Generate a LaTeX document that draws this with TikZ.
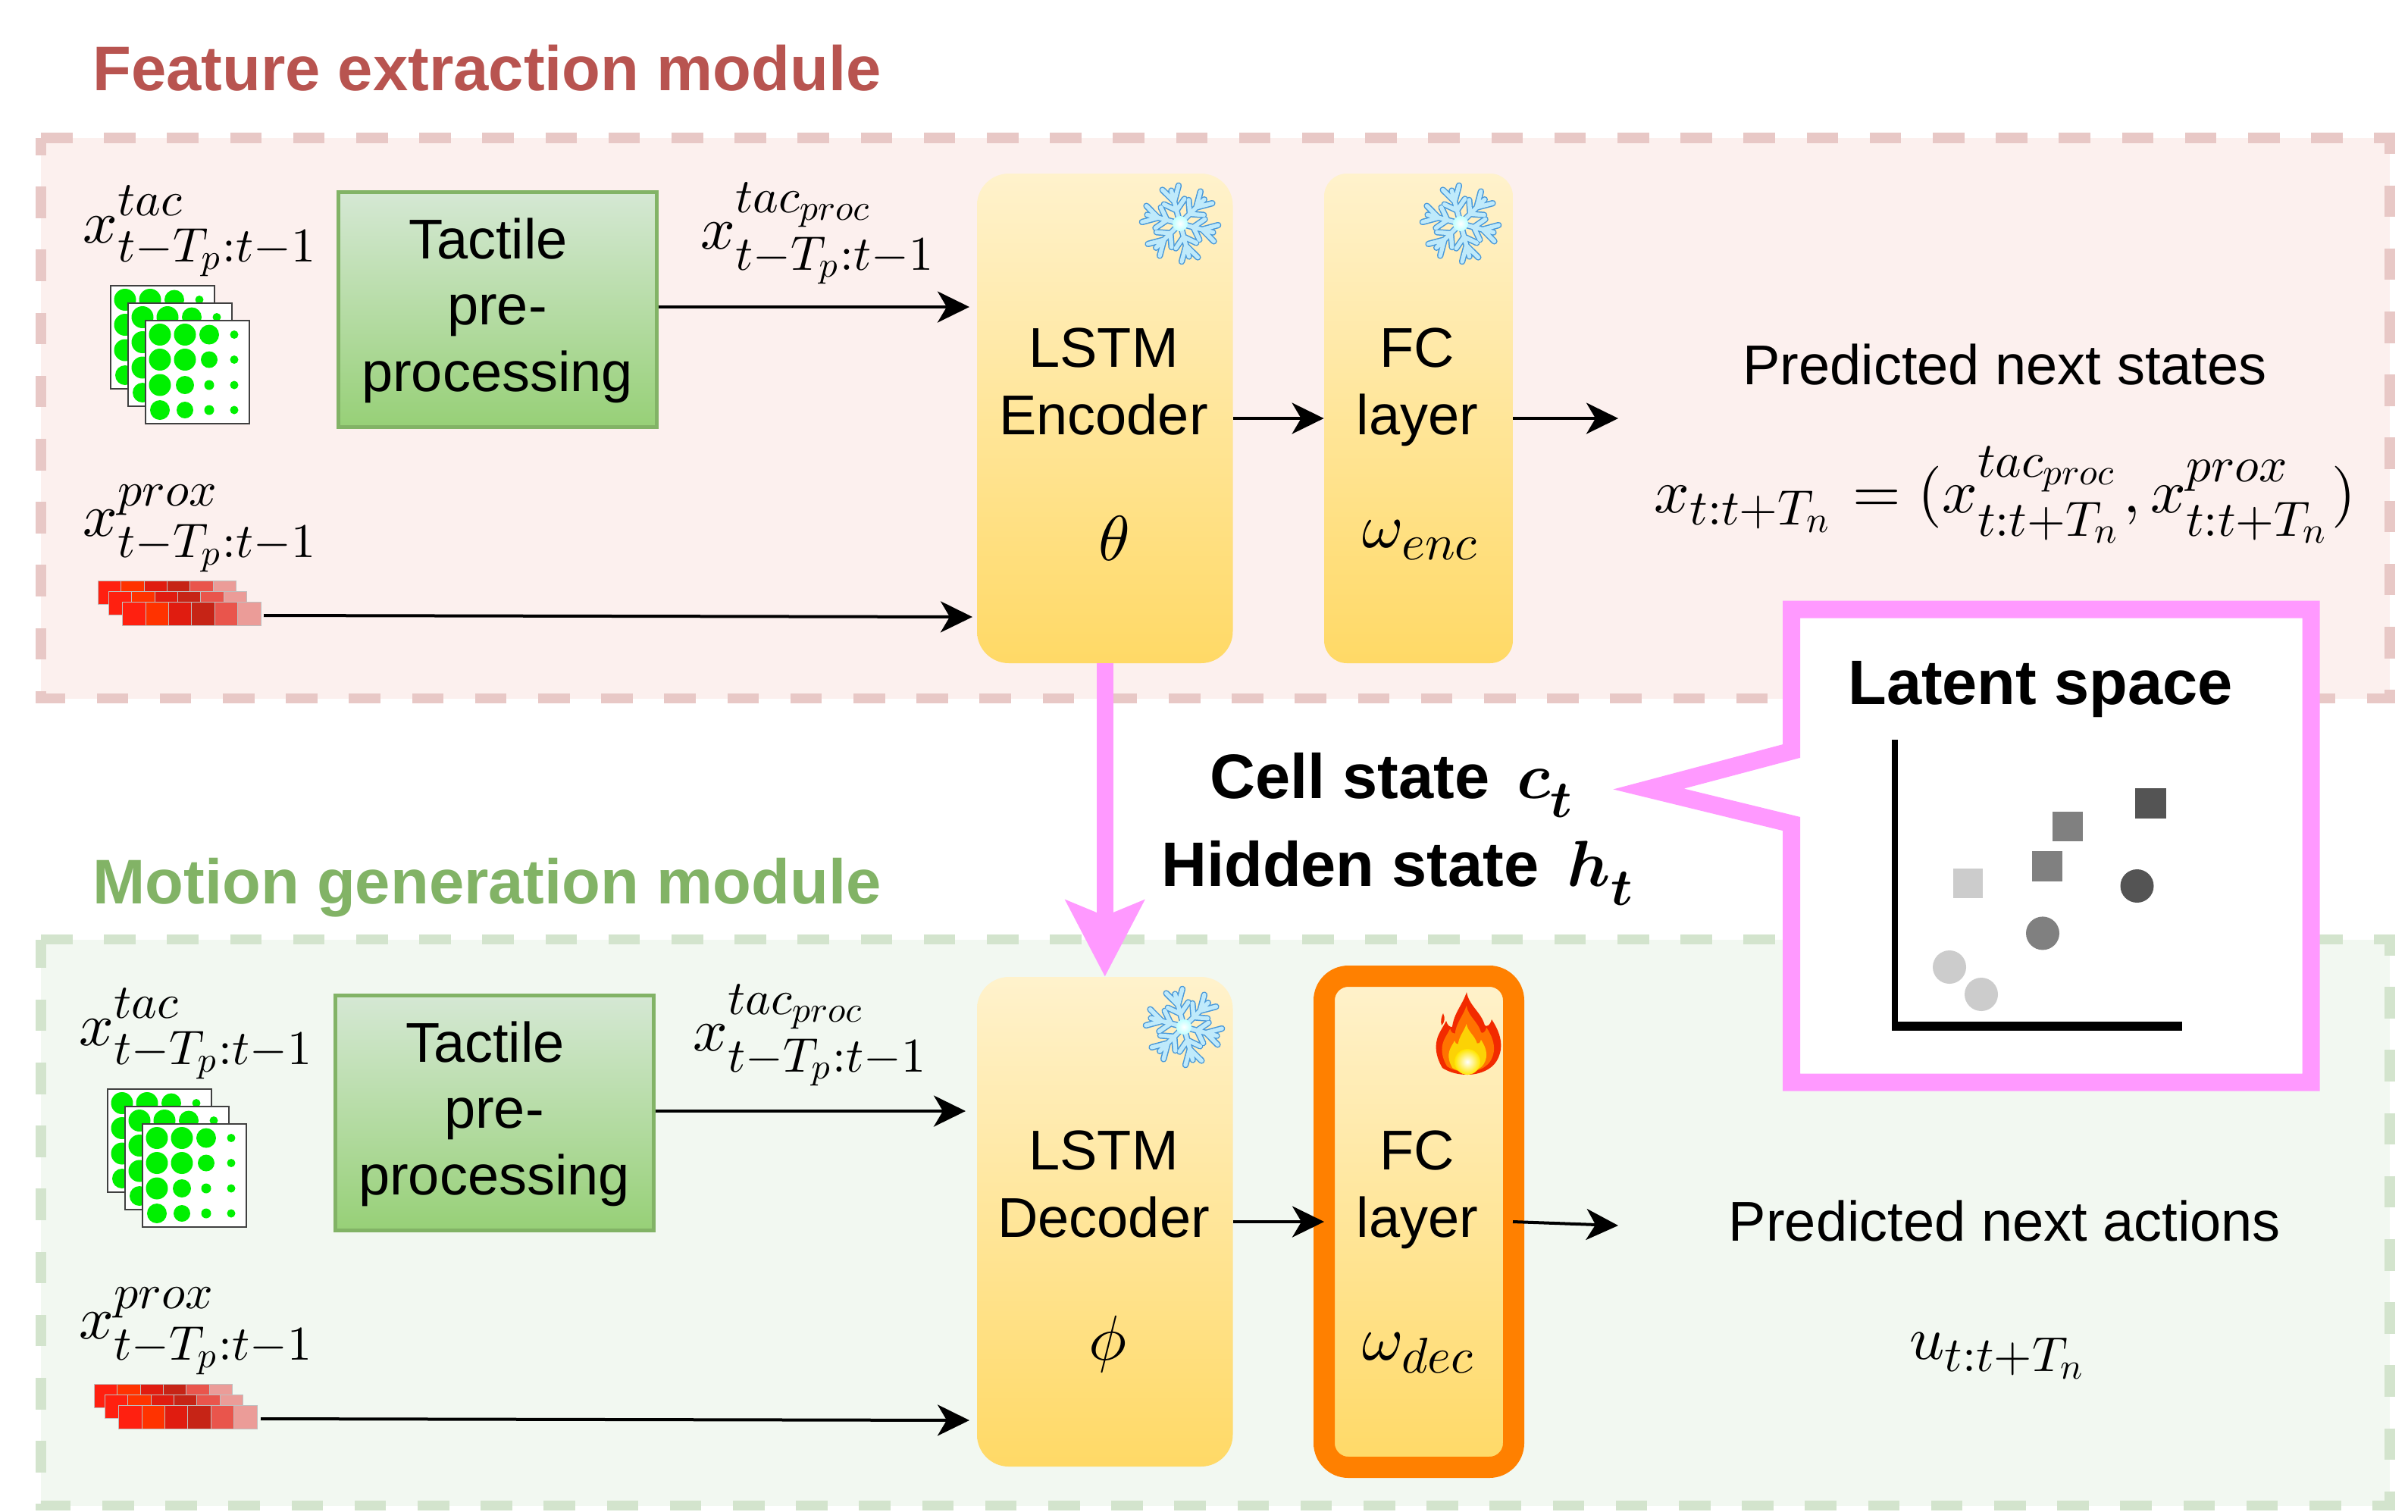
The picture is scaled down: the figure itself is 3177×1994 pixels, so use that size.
\documentclass[tikz,border=0pt]{standalone}
\usepackage{amsmath}
\usepackage[no-math]{fontspec}
\setmainfont{Liberation Sans}
\usetikzlibrary{arrows.meta}
\definecolor{redfill}{HTML}{FCF0EE}
\definecolor{reddash}{HTML}{E8C8C6}
\definecolor{greenfill}{HTML}{F2F8F1}
\definecolor{greendash}{HTML}{D3E4CD}
\definecolor{titlered}{HTML}{B85450}
\definecolor{titlegreen}{HTML}{82B366}
\definecolor{pinkc}{HTML}{FF99FF}
\definecolor{orangec}{HTML}{FF8000}
\definecolor{yellowtop}{HTML}{FFF2CC}
\definecolor{yellowbot}{HTML}{FFD966}
\definecolor{greentop}{HTML}{D5E8D4}
\definecolor{greenbot}{HTML}{97D077}
\definecolor{greenline}{HTML}{82B366}
\definecolor{dotgreen}{HTML}{00F000}
% script sizes as large as the reference's
\font\mjmiS=cmmi10 at 8pt
\font\mjmiSS=cmmi10 at 6pt
\font\mjrS=cmr10 at 8pt
\font\mjrSS=cmr10 at 6pt
\font\mjsyS=cmsy10 at 8pt
\font\mjsySS=cmsy10 at 6pt
\font\mjsyT=cmsy10 at 10.001pt
\fontdimen13\mjsyT=4.4pt
\fontdimen14\mjsyT=4.4pt
\fontdimen15\mjsyT=4.4pt
\fontdimen16\mjsyT=2.05pt
\fontdimen17\mjsyT=3.2pt
\font\bmiT=cmmib10 at 10pt
\font\bmiS=cmmib10 at 8pt
\newcommand{\mj}{\textfont2=\mjsyT \scriptfont0=\mjrS \scriptscriptfont0=\mjrSS
  \scriptfont1=\mjmiS \scriptscriptfont1=\mjmiSS
  \scriptfont2=\mjsyS \scriptscriptfont2=\mjsySS }
\newcommand{\upsc}[2]{\raisebox{#1}{$\scriptstyle #2$}}
\tikzset{
  module/.style={line width=6.85pt,dash pattern=on 20.8pt off 20.8pt},
  bodytext/.style={font=\fontsize{37}{41}\selectfont,anchor=base,inner sep=0pt},
  boldtext/.style={font=\fontsize{41.5}{45}\selectfont\bfseries,anchor=base,inner sep=0pt},
  titletext/.style={font=\fontsize{41.6}{45}\selectfont\bfseries,anchor=base west,inner sep=0pt},
  mathlab/.style={scale=4,anchor=base west,inner sep=0pt},
  boldmath/.style={scale=4.3,anchor=base west,inner sep=0pt},
  greek/.style={scale=4.2,anchor=center,inner sep=0pt},
  lstmbox/.style={draw=none,top color=yellowtop,bottom color=yellowbot,rounded corners=21pt,inner sep=0pt,minimum width=168.75pt,minimum height=323pt},
  fcbox/.style={draw=none,top color=yellowtop,bottom color=yellowbot,rounded corners=15pt,inner sep=0pt,minimum width=124.5pt,minimum height=323pt},
  hotbox/.style={draw=orangec,line width=14pt,top color=yellowtop,bottom color=yellowbot,rounded corners=16pt,inner sep=0pt,minimum width=125pt,minimum height=324pt},
  tactilebox/.style={draw=greenline,line width=2.5pt,top color=greentop,bottom color=greenbot,inner sep=0pt,minimum width=210pt,minimum height=155pt},
  flow/.style={line width=2pt,-{Stealth[length=21pt,width=20.5pt,inset=6pt]}},
  bigflow/.style={draw=pinkc,line width=11pt,-{Stealth[length=50pt,width=51pt,inset=10pt,color=pinkc]}},
  sheet/.style={draw=black!75,line width=1pt,fill=white},
  dot/.style={fill=dotgreen,draw=none},
  cell/.style={draw=black!25,line width=.25pt}
}
\newcommand{\dotsheet}[2]{%
  \begin{scope}[shift={(#1,#2)}]
    \filldraw[sheet] (0,0) rectangle (137,136);
    \foreach \cx/\cy/\r in {19/18.5/14.5,52/18.5/14.5,84/18.5/13,117/18.5/5.5,
                            19/51.5/14.5,52/51.5/14.5,84/51.5/11,117/51.5/5.5,
                            19/85/14.5,52/85/12,84/85/6.5,117/85/5.5,
                            19/118/13,52/118/11,84/118/6.5,117/118/5.5}
      \fill[dot] (\cx,\cy) circle[radius=\r*0.5pt];
  \end{scope}}
\newcommand{\tacstack}[2]{%
  \begin{scope}[shift={(#1,#2)}]
    \dotsheet{0}{0}\dotsheet{23}{23}\dotsheet{46}{46}
  \end{scope}}
\newcommand{\redstrip}[2]{%
  \begin{scope}[shift={(#1,#2)}]
    \foreach \i/\c in {0/FF2010,1/FF3300,2/E01C10,3/C62416,4/E9554C,5/EB9C98}{
      \definecolor{cellc}{HTML}{\c}
      \filldraw[cell,fill=cellc] ({\i*30.4},0) rectangle ({(\i+1)*30.4},31.5);
    }
  \end{scope}}
\newcommand{\proxstack}[2]{%
  \begin{scope}[shift={(#1,#2)}]
    \redstrip{0}{0}\redstrip{14}{14}\redstrip{32.5}{28}
  \end{scope}}
\newcommand{\flakearm}{(0,0)--(30,0) (30,0)--(49,11) (30,0)--(49,-11) (36,0)--(45,0) (18,0)--(30,14) (18,0)--(30,-14)}
\newcommand{\snowflk}[2]{%
  \begin{scope}[shift={(#1,#2)}]
    \foreach \a in {-15,45,105,165,225,285}{
      \draw[rotate=\a,draw=cyan!65!blue!75,line width=4.2pt,line cap=round,line join=round] \flakearm;
    }
    \foreach \a in {-15,45,105,165,225,285}{
      \draw[rotate=\a,draw=cyan!25,line width=2.7pt,line cap=round,line join=round] \flakearm;
    }
    \shade[inner color=white,outer color=cyan!25] (0,0) circle[radius=5pt];
  \end{scope}}
\newcommand{\flamepath}{(41,0) .. controls (44,18) and (60,26) .. (65,44)
  .. controls (68,46) and (72,44) .. (74,36)
  .. controls (82,48) and (88,62) .. (86,76)
  .. controls (84,88) and (78,96) .. (72,100)
  .. controls (64,106) and (52,109) .. (42,109)
  .. controls (30,109) and (18,106) .. (9,100)
  .. controls (3,90) and (-2,76) .. (2,62)
  .. controls (4,54) and (10,46) .. (14,38)
  .. controls (16,44) and (18,46) .. (22,46)
  .. controls (24,28) and (36,16) .. (41,0) -- cycle}
\newcommand{\fireicon}[2]{%
  \begin{scope}[shift={(#1,#2)}]
    \fill[red!65!orange!95!black] \flamepath;
    \fill[red!65!orange!95!black] (10,28) .. controls (13,34) and (12,40) .. (8,44) .. controls (6,38) and (8,32) .. (10,28) -- cycle;
    \begin{scope}[shift={(8,18)},scale=.8]
      \fill[orange!90!red] \flamepath;
    \end{scope}
    \begin{scope}[shift={(17,42)},scale=.58]
      \fill[yellow!70!orange] \flamepath;
    \end{scope}
    \shade[inner color=white,outer color=yellow!80!orange] (42,92) circle[radius=8.5pt];
  \end{scope}}
\begin{document}
\begin{tikzpicture}[x=0.5pt,y=-0.5pt]
\useasboundingbox (0,0) rectangle (3177,1994);
\fill[white] (0,0) rectangle (3177,1994);
% modules
\fill[redfill] (54,182) rectangle (3153,921.5);
\draw[module,reddash] (54,182) -- (3153,182) -- (3153,921.5) -- (54,921.5) -- cycle;
\fill[greenfill] (54,1239.5) rectangle (3153,1986.5);
\draw[module,greendash] (54,1239.5) -- (3153,1239.5) -- (3153,1986.5) -- (54,1986.5) -- cycle;
\node[titletext,text=titlered] (titleA) at (122,119) {Feature extraction module};
\node[titletext,text=titlegreen] (titleB) at (122,1192) {Motion generation module};
% top boxes
\node[tactilebox] (tacA) at (656,408) {};
\node[lstmbox] (enc) at (1457.75,552) {};
\node[fcbox] (fcA) at (1871.5,552) {};
% bottom boxes
\node[tactilebox] (tacB) at (652,1468) {};
\node[lstmbox] (dec) at (1457.75,1612) {};
\node[hotbox] (fcB) at (1872,1612) {};
% top labels
\node[bodytext] (ta1) at (644,341) {Tactile};
\node[bodytext] (ta2) at (656,428) {pre-};
\node[bodytext] (ta3) at (656,516.5) {processing};
\node[bodytext] (e1) at (1456,484) {LSTM};
\node[bodytext] (e2) at (1456,573) {Encoder};
\node[greek] (e3) at (1470,710) {$\theta$};
\node[bodytext] (f1) at (1870,484) {FC};
\node[bodytext] (f2) at (1870,573) {layer};
\node[mathlab,scale=1.035] (f3) at (1796,722) {$\mj\omega_{enc}$};
\node[mathlab] (xa) at (108,320) {$\mj x^{tac}_{t-T_p:t-1}$};
\node[mathlab] (xb) at (108,707) {$\mj x^{prox}_{t-T_p:t-1}$};
\node[mathlab] (xc) at (923,328) {$\mj x^{\upsc{1.5pt}{tac_{proc}}}_{t-T_p:t-1}$};
\node[bodytext] (ps) at (2645,507) {Predicted next states};
\node[mathlab,scale=1.022] (eqn) at (2181,676) {$\mj x_{t:t+T_n}=(x^{\upsc{1.3pt}{tac_{proc}}}_{\upsc{-0.6pt}{t:t+T_n}},x^{\upsc{0.5pt}{prox}}_{\upsc{-0.6pt}{t:t+T_n}})$};
% bottom labels
\node[bodytext] (tb1) at (640,1401) {Tactile};
\node[bodytext] (tb2) at (652,1488) {pre-};
\node[bodytext] (tb3) at (652,1576.5) {processing};
\node[bodytext] (d1) at (1456,1543) {LSTM};
\node[bodytext] (d2) at (1456,1632) {Decoder};
\node[greek] (d3) at (1462,1773) {$\phi$};
\node[bodytext] (g1) at (1870,1543) {FC};
\node[bodytext] (g2) at (1870,1632) {layer};
\node[mathlab,scale=1.035] (g3) at (1796,1794) {$\mj\omega_{dec}$};
\node[mathlab] (xd) at (103,1379) {$\mj x^{tac}_{t-T_p:t-1}$};
\node[mathlab] (xe) at (103,1766) {$\mj x^{prox}_{t-T_p:t-1}$};
\node[mathlab] (xf) at (913,1386) {$\mj x^{\upsc{1.5pt}{tac_{proc}}}_{t-T_p:t-1}$};
\node[bodytext] (pa) at (2645,1637) {Predicted next actions};
\node[mathlab,scale=1.012] (un) at (2518,1793) {$\mj u_{t:t+T_n}$};
% icons
\tacstack{146}{377}
\proxstack{129}{766}
\tacstack{142}{1437}
\proxstack{124}{1826}
\snowflk{1557}{295}
\snowflk{1927}{295}
\snowflk{1562}{1355}
\fireicon{1894}{1309}
% coordinates for connector free ends
\coordinate (proxA) at (348,812);
\coordinate (proxB) at (344,1872);
\coordinate (encTac) at (1279,405);
\coordinate (encProx) at (1283,814);
\coordinate (decTac) at (1274,1466);
\coordinate (decProx) at (1279,1874);
\coordinate (outA) at (2135,552);
\coordinate (outB) at (2135,1617);
\coordinate (fcBsrc) at (1996,1612);
\coordinate (fcBin) at (1747,1612);
% connectors
\draw[flow] (tacA.east |- encTac) -- (encTac);
\draw[flow] (proxA) -- (encProx);
\draw[flow] (enc.east) -- (fcA.west);
\draw[flow] (fcA.east) -- (outA);
\draw[flow] (tacB.east |- decTac) -- (decTac);
\draw[flow] (proxB) -- (decProx);
\draw[flow] (dec.east) -- (fcBin);
\draw[flow] (fcBsrc) -- (outB);
\draw[bigflow] (enc.south) -- (dec.north);
% callout
\filldraw[draw=pinkc,fill=white,line width=11.5pt,miter limit=10] (2363.5,804) -- (3049,804) -- (3049,1428) -- (2363.5,1428) -- (2363.5,1087) -- (2175,1041) -- (2363.5,991) -- cycle;
\node[boldtext] (ls) at (2692,929) {Latent space};
\node[boldtext,anchor=base west] (cs) at (1596,1053) {Cell state};
\node[boldtext,anchor=base west] (hs) at (1532,1169) {Hidden state};
\node[boldmath] (ct) at (2000,1053) {\bmiT c\lower3pt\hbox{\bmiS t}};
\node[boldmath] (ht) at (2066,1169) {\bmiT h\lower3pt\hbox{\bmiS t}};
% plot
\fill[black] (2496,976) rectangle (2504,1360);
\fill[black] (2496,1348) rectangle (2878.5,1360);
\fill[black!67] (2817,1040) rectangle (2858,1080);
\fill[black!50] (2708,1071) rectangle (2748,1110);
\fill[black!50] (2681,1122.6) rectangle (2721,1162.6);
\fill[black!20] (2577,1145.6) rectangle (2616,1185);
\fill[black!67] (2819.5,1169) circle[radius=11pt];
\fill[black!50] (2695,1231.4) circle[radius=11pt];
\fill[black!20] (2572,1276) circle[radius=11pt];
\fill[black!20] (2614,1312) circle[radius=11pt];
\end{tikzpicture}
\end{document}
